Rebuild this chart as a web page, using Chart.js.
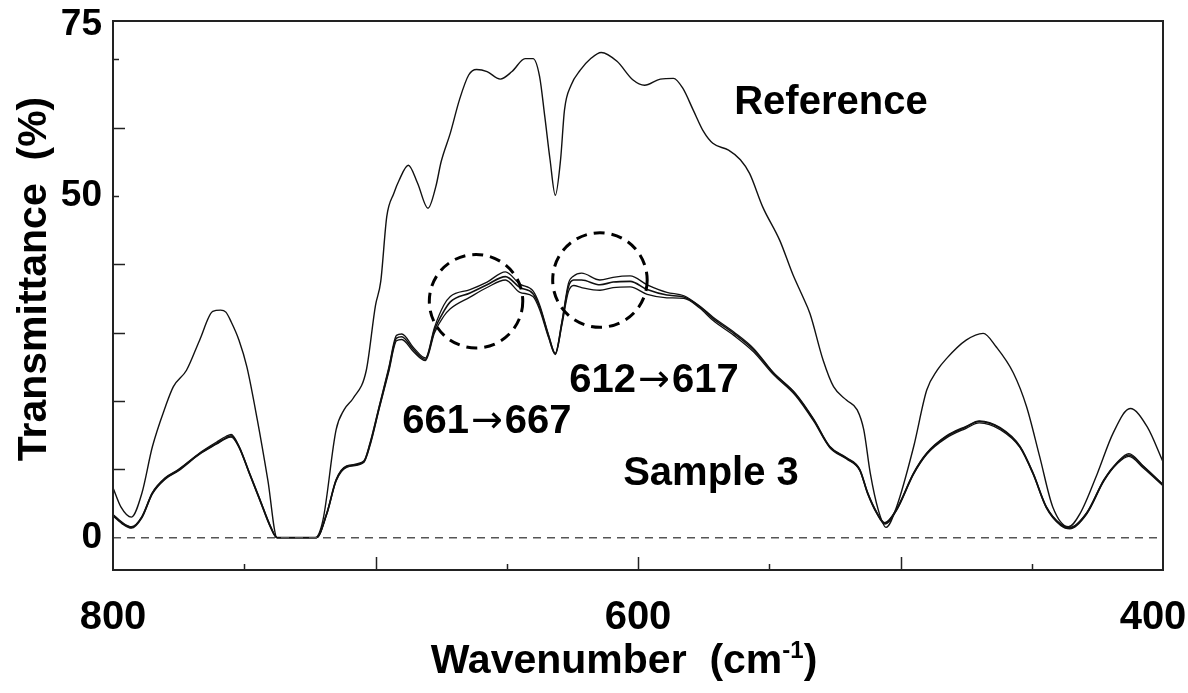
<!DOCTYPE html>
<html><head><meta charset="utf-8">
<script src="https://cdn.jsdelivr.net/npm/chart.js@4.4.1/dist/chart.umd.min.js"></script>
<style>html,body{margin:0;padding:0;background:#fff;}canvas{display:block;}</style>
</head><body>
<canvas id="c" width="1188" height="693"></canvas>
<script>
// ---- data ----
const refWavenumber = [800,797,793,789,785,780,777,772,767,762,759,757,755,752,749,745,741,737.5,723,720,715,712,708.5,703.5,700,698,695.7,693,691,687.5,684,680,677,675,671.5,668,664.5,661.5,657.5,652.5,648,643,640,637.5,635.5,633.5,631.5,629.5,628,625.5,622,618,614,608,602,597.5,591.5,586.5,583,579,575,571.5,565.5,561,557.5,552.5,546,541,537.5,534.5,529.5,525.5,520.5,516.5,514,511.5,508.5,505.5,501.5,495,490,486,482.5,475,468.5,463.5,457,452,447,442,436,431.5,425,419,412.5,406,400];
const refTransmittance = [7.3,4.5,3.0,6.5,13.3,19.2,22.1,24.5,28.9,33.1,33.3,33.0,31.6,28.9,25.0,17.2,8.4,0,0,2.6,15.8,18.7,20.4,24.5,34.0,37.5,47.0,50.4,52.3,54.5,51.9,48.2,51.4,55.0,59.2,64.1,67.7,68.5,68.2,67.1,68.2,70.1,70.1,67.5,61.6,55.3,50.1,55.3,62.6,66.2,68.4,70.1,71.0,69.7,67.0,66.2,67.1,67.2,65.8,62.6,59.4,57.7,56.7,55.3,53.3,48.4,43.5,38.5,35.5,32.8,26.0,22.1,20.1,18.7,15.8,9.4,4.1,1.5,4.5,13.3,21.6,24.5,26.2,28.9,29.9,27.9,24.1,19.2,11.9,4.5,1.6,3.6,9.4,15.3,18.9,16.2,11.1];

const sampleWavenumber = [800,796,793,789,785,780,775,767,760.5,757,755,752,748,744,740,737.5,722.5,718.5,715,711,704.5,702,698.5,695,692,690,685.5,681,677.5,674,671.5,664,657.5,650.5,645,640,637.5,634,631.5,629,626.5,624.5,621.5,614.5,609.5,603,596.5,589,582.5,576.5,571.5,563.5,556,548.5,540,533,527,520.5,515.5,512.5,509,506,501.5,495,490,482.5,475,470,462,454.5,449.5,444.5,439,435.5,429,422.5,417.5,413,407.5,400];
const sampleRunA = [3.4,2.1,1.6,3.1,6.6,8.8,10.0,12.4,14.0,14.8,15.1,13.4,9.5,5.6,1.7,0,0,3.7,8.5,10.5,11.2,14.0,19.4,24.8,29.6,29.8,27.8,26.3,30.8,34.0,35.3,36.3,37.4,38.9,37.1,36.1,34.1,29.6,27.0,31.6,37.2,38.3,38.7,37.7,38.1,38.3,37.0,35.9,35.4,33.9,32.3,30.1,27.7,24.2,21.1,17.3,13.4,11.7,10.0,6.6,3.7,2.2,4.2,9.5,12.4,14.9,16.3,17.1,16.1,13.4,9.5,4.6,2.0,1.5,3.7,8.5,11.0,12.3,10.5,7.8];
const sampleRunB = [3.3,2.0,1.5,3.0,6.5,8.7,9.9,12.3,13.8,14.6,14.9,13.3,9.4,5.5,1.6,0,0,3.6,8.4,10.4,11.1,13.8,19.2,24.5,29.2,29.4,27.5,26.1,30.4,33.1,34.5,35.8,37.0,38.2,36.6,35.7,33.8,29.4,26.9,31.4,36.7,37.7,37.7,37.0,37.4,37.5,36.3,35.5,35.2,33.8,32.1,29.9,27.5,24.1,21.0,17.2,13.3,11.6,9.9,6.5,3.6,2.1,4.1,9.4,12.3,14.8,16.2,17.0,16.0,13.3,9.4,4.5,1.9,1.4,3.6,8.4,10.9,12.1,10.4,7.7];
const sampleRunC = [3.2,1.9,1.4,2.9,6.4,8.6,9.8,12.2,13.7,14.5,14.7,13.2,9.3,5.4,1.5,0,0,3.5,8.3,10.3,11.0,13.6,19.0,24.2,28.8,29.0,27.2,25.9,30.0,32.4,33.5,35.2,36.6,37.7,35.9,35.3,33.4,29.2,26.8,31.1,36.0,36.9,36.6,36.2,36.6,36.7,35.6,35.1,35.0,33.6,31.8,29.6,27.2,23.9,20.8,17.0,13.2,11.5,9.8,6.4,3.5,2.0,4.0,9.3,12.2,14.6,16.0,16.8,15.8,13.2,9.3,4.4,1.8,1.3,3.5,8.3,10.8,11.9,10.2,7.6];

const zeroLineWavenumber = [800,400];
const zeroLineValues = [0,0];

const xTickValues = [800,750,700,650,600,550,500,450,400];
const xTickLabels = [800,600,400];
const yTickValues = [0,10,20,30,40,50,60,70,75];
const yTickLabels = [0,50,75];

// annotation texts: [left part, arrow, right part]
const annotationParts = [['Reference','',''],['Sample 3','',''],['661','\u2192','667'],['612','\u2192','617']];
const annotationX = [526.5,572.2,657.6,593.9];
const annotationY = [64.0,9.8,17.4,23.4];

const circleX = [661.7,614.5];
const circleY = [34.6,37.7];
const circleRadiusWn = [17.8,18.0];

// ---- chart ----
const FONT = "'Liberation Sans', Arial, sans-serif";
const pts = (xs, ys) => xs.map((x,i)=>({x:x, y:ys[i]}));

const decor = {
  id: 'decor',
  afterDatasetsDraw(chart) {
    const {ctx, chartArea:a, scales:{x, y}} = chart;
    ctx.save();
    // inward tick marks
    ctx.strokeStyle = '#222'; ctx.lineWidth = 1.5;
    x.ticks.forEach(t => {
      if (t.value <= 400 || t.value >= 800) return;
      const px = Math.round(x.getPixelForValue(t.value)) + 0.5;
      const len = (t.value % 100 === 0) ? 13 : 6;
      ctx.beginPath(); ctx.moveTo(px, a.bottom); ctx.lineTo(px, a.bottom - len); ctx.stroke();
    });
    y.ticks.forEach(t => {
      if (t.value <= 0 || t.value >= 75) return;
      const py = Math.round(y.getPixelForValue(t.value)) + 0.5;
      const len = (t.value === 70 || t.value === 50) ? 6 : 12;
      ctx.beginPath(); ctx.moveTo(a.left, py); ctx.lineTo(a.left + len, py); ctx.stroke();
    });
    // frame
    ctx.lineWidth = 2; ctx.strokeStyle = '#222';
    ctx.strokeRect(a.left, a.top, a.right - a.left, a.bottom - a.top);
    // dashed circles
    ctx.setLineDash([11, 7]); ctx.lineWidth = 3; ctx.strokeStyle = '#000';
    circleX.forEach((cxv, i) => {
      const cx = x.getPixelForValue(cxv), cy = y.getPixelForValue(circleY[i]);
      const r = Math.abs(x.getPixelForValue(cxv - circleRadiusWn[i]) - cx);
      ctx.beginPath(); ctx.arc(cx, cy, r, 0, Math.PI * 2); ctx.stroke();
    });
    ctx.setLineDash([]);
    // annotation texts
    ctx.fillStyle = '#000';
    const big = 'bold 40px ' + FONT, small = 'bold 24px ' + FONT;
    const arrowFont = '38px "DejaVu Sans"';
    ctx.textAlign = 'left'; ctx.textBaseline = 'alphabetic';
    annotationParts.forEach((parts, i) => {
      ctx.font = big; const w1 = ctx.measureText(parts[0]).width, w3 = ctx.measureText(parts[2]).width;
      ctx.font = arrowFont; const w2 = parts[1] ? ctx.measureText(parts[1]).width + 4 : 0;
      const cx = x.getPixelForValue(annotationX[i]);
      const by = y.getPixelForValue(annotationY[i]) + 14;
      let sx = cx - (w1 + w2 + w3) / 2;
      ctx.font = big; ctx.fillText(parts[0], sx, by); sx += w1;
      if (parts[1]) { ctx.font = arrowFont; ctx.fillText(parts[1], sx + 2, by - 1); sx += w2; }
      ctx.font = big; ctx.fillText(parts[2], sx, by);
    });
    // x axis title with superscript
    const p1 = 'Wavenumber  (cm', p2 = '-1', p3 = ')';
    const tf = 'bold 41px ' + FONT;
    ctx.font = tf; const w1 = ctx.measureText(p1).width, w3 = ctx.measureText(p3).width;
    ctx.font = small; const w2 = ctx.measureText(p2).width;
    const total = w1 + w2 + w3;
    let sx = (a.left + a.right) / 2 - 14 - total / 2;
    const by = 673;
    ctx.font = tf; ctx.fillText(p1, sx, by); sx += w1;
    ctx.font = small; ctx.fillText(p2, sx, by - 15); sx += w2;
    ctx.font = tf; ctx.fillText(p3, sx, by);
    // y axis title
    ctx.translate(46, 279);
    ctx.rotate(-Math.PI / 2);
    ctx.textAlign = 'center';
    ctx.font = tf;
    ctx.fillText('Transmittance  (%)', 0, 0);
    ctx.restore();
  }
};

const lineStyle = (w) => ({borderColor:'#111', borderWidth:w, pointRadius:0, fill:false, cubicInterpolationMode:'monotone'});
const noPad = s => { s.paddingLeft = 0; s.paddingRight = 0; s.paddingTop = 0; s.paddingBottom = 0; };

new Chart(document.getElementById('c'), {
  type: 'line',
  data: {
    datasets: [
      Object.assign({label:'Zero', data: pts(zeroLineWavenumber, zeroLineValues)}, lineStyle(1.5), {borderColor:'#555', borderDash:[8,6]}),
      Object.assign({label:'Reference', data: pts(refWavenumber, refTransmittance)}, lineStyle(1.4)),
      Object.assign({label:'Sample 3 (a)', data: pts(sampleWavenumber, sampleRunA)}, lineStyle(1.3)),
      Object.assign({label:'Sample 3 (b)', data: pts(sampleWavenumber, sampleRunB)}, lineStyle(1.6)),
      Object.assign({label:'Sample 3 (c)', data: pts(sampleWavenumber, sampleRunC)}, lineStyle(1.3))
    ]
  },
  options: {
    responsive: false,
    devicePixelRatio: 1,
    animation: false,
    layout: {padding: {top: 21, right: 25, left: 0, bottom: 0}},
    plugins: {legend: {display: false}, tooltip: {enabled: false}},
    scales: {
      x: {
        type: 'linear', min: 400, max: 800, reverse: true,
        afterBuildTicks: s => { s.ticks = xTickValues.map(v => ({value: v})); },
        afterFit: s => { s.height = 123; noPad(s); },
        ticks: {
          autoSkip: false, maxRotation: 0, padding: 24, color: '#000',
          font: {family: FONT, size: 40, weight: 'bold'},
          callback: v => xTickLabels.includes(v) ? (v === 400 ? '400\u2002' : String(v)) : ''
        },
        grid: {display: true, drawOnChartArea: false, drawTicks: false},
        border: {display: false}
      },
      y: {
        type: 'linear', min: -4.73, max: 75.6,
        afterBuildTicks: s => { s.ticks = yTickValues.map(v => ({value: v})); },
        afterFit: s => { s.width = 113; noPad(s); },
        ticks: {
          autoSkip: false, padding: 11, color: '#000',
          font: {family: FONT, size: 37, weight: 'bold'},
          callback: v => yTickLabels.includes(v) ? String(v) : ''
        },
        grid: {display: true, drawOnChartArea: false, drawTicks: false},
        border: {display: false}
      }
    }
  },
  plugins: [decor]
});
</script>
</body></html>
